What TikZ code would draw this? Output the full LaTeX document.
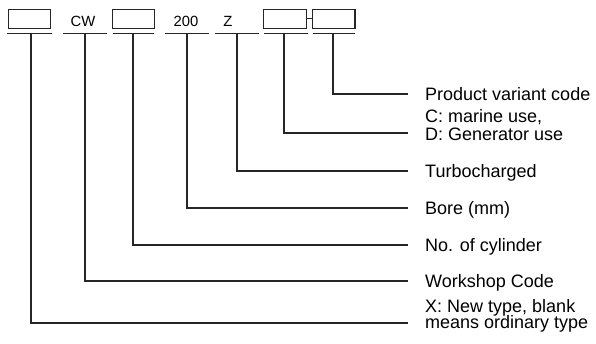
\documentclass[tikz,border=0pt]{standalone}
\usepackage{fontspec}
\setmainfont{Liberation Sans}
\begin{document}
\begin{tikzpicture}[x=1pt,y=-1pt,
  ln/.style={draw=black!85, line width=1.1pt},
  codebox/.style={draw=black!85, line width=1.1pt, minimum width=42.4pt, minimum height=19pt, inner sep=0pt},
  toplbl/.style={font=\fontsize{14.8}{16}\selectfont, anchor=base, inner sep=0pt},
  desc/.style={font=\fontsize{18}{17}\selectfont, anchor=base west, align=left, inner sep=0pt}]
\useasboundingbox (0,0) rectangle (596,343);
% top code boxes and labels
\node[codebox] (b1) at (29.5,18.8) {};
\node[toplbl] (cw) at (83,26.7) {CW};
\node[codebox] (b2) at (133.3,18.8) {};
\node[toplbl] (n200) at (186,26.7) {200};
\node[toplbl] (z) at (228,26.7) {Z};
\node[codebox] (b3) at (285,18.8) {};
\node[codebox] (b4) at (333.8,18.8) {};
\draw[ln] (b3.east) -- (b4.west);
% underlines
\coordinate (u1l) at (6.7,33.3);  \coordinate (u1r) at (51.7,33.3);
\coordinate (u2l) at (62.7,33.3); \coordinate (u2r) at (107.3,33.3);
\coordinate (u3l) at (112.7,33.3); \coordinate (u3r) at (154,33.3);
\coordinate (u4l) at (165,33.3);  \coordinate (u4r) at (209.3,33.3);
\coordinate (u5l) at (215,33.3);  \coordinate (u5r) at (259.3,33.3);
\coordinate (u6l) at (264.3,33.3); \coordinate (u6r) at (307.7,33.3);
\coordinate (u7l) at (312.7,33.3); \coordinate (u7r) at (355,33.3);
\foreach \i in {1,...,7} {\draw[ln] (u\i l) -- (u\i r);}
% stems
\coordinate (s1) at (31,33.3);
\coordinate (s2) at (85,33.3);
\coordinate (s3) at (133,33.3);
\coordinate (s4) at (187,33.3);
\coordinate (s5) at (237,33.3);
\coordinate (s6) at (284,33.3);
\coordinate (s7) at (333,33.3);
% line ends
\coordinate (e7) at (408,94);
\coordinate (e6) at (408,133);
\coordinate (e5) at (408,171);
\coordinate (e4) at (408,208);
\coordinate (e3) at (408,245);
\coordinate (e2) at (408,281);
\coordinate (e1) at (408,323);
\foreach \i in {1,...,7} {\draw[ln] (s\i) |- (e\i);}
% descriptions
\node[desc] (d7) at (425,100.7) {Product variant code};
\node[desc] (d6a) at (425,122.5) {C: marine use,};
\node[desc] (d6b) at (425,140) {D: Generator use};
\node[desc] (d5) at (425,177.5) {Turbocharged};
\node[desc] (d4) at (425,214.5) {Bore (mm)};
\node[desc] (d3) at (425,251.5) {No. of cylinder};
\node[desc] (d2) at (425,287.5) {Workshop Code};
\node[desc] (d1a) at (425,312) {X: New type, blank};
\node[desc] (d1b) at (425,328.5) {means ordinary type};
\end{tikzpicture}
\end{document}
